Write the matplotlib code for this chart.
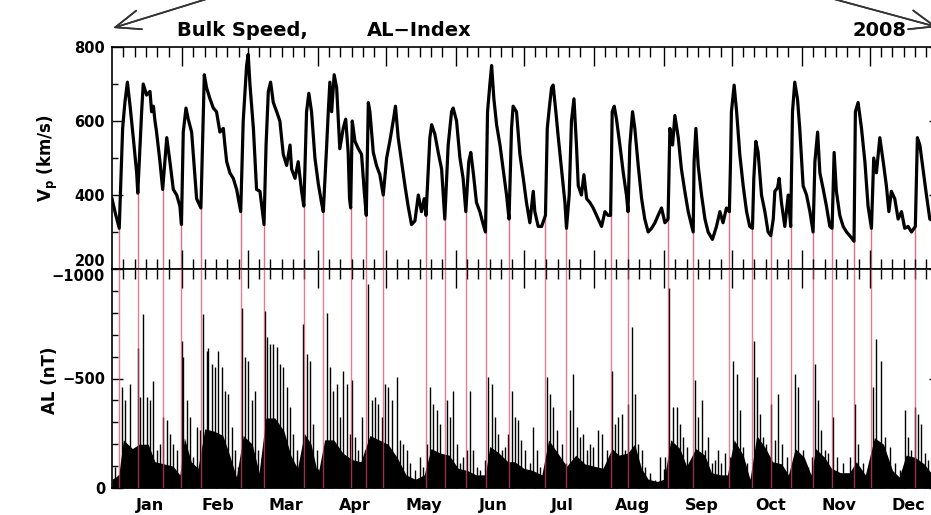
import numpy as np
import matplotlib
matplotlib.use("Agg")
import matplotlib.pyplot as plt
from matplotlib.transforms import blended_transform_factory

plt.rcParams['font.family'] = ['DejaVu Sans']
plt.rcParams['font.weight'] = 'bold'
plt.rcParams['mathtext.fontset'] = 'custom'
plt.rcParams['mathtext.rm'] = 'DejaVu Sans:bold'
plt.rcParams['mathtext.it'] = 'DejaVu Sans:bold'
plt.rcParams['mathtext.bf'] = 'DejaVu Sans:bold'

# 2008 calendar (leap year), x axis in day-of-year
months = ['Jan', 'Feb', 'Mar', 'Apr', 'May', 'Jun', 'Jul', 'Aug', 'Sep', 'Oct', 'Nov', 'Dec']
month_len = [31, 29, 31, 30, 31, 30, 31, 31, 30, 31, 30, 31]

# solar wind bulk speed (km/s)
speed_day = [0, 1.5, 3.2, 4.7, 5.7, 6.8, 8.0, 9.4, 10.9, 11.4, 13.1, 13.8, 15.3, 16.8, 17.5,
             18.3, 19.0, 19.7, 21.2, 21.9, 22.4, 24.2, 25.6, 27.1, 28.6, 30.0, 30.7, 31.5,
             32.7, 33.7, 35.2, 36.7, 37.4, 39.3, 40.8, 41.8, 43.3, 44.8, 46.2, 47.7, 49.2,
             49.9, 50.7, 52.1, 53.6, 55.1, 56.9, 58.0, 59.5, 60.2, 61.0, 62.5, 63.9, 65.4,
             67.2, 68.1, 69.1, 70.1, 71.3, 72.8, 74.2, 75.7, 77.2, 78.7, 79.4, 80.9, 82.3,
             83.8, 84.8, 86.0, 87.0, 88.2, 89.7, 91.2, 92.6, 93.4, 94.9, 95.6, 96.3, 97.1,
             98.2, 99.3, 100.0, 100.7, 102.2, 103.3, 104.4, 105.0, 105.5, 106.2, 107.4,
             108.9, 110.3, 111.5, 112.4, 113.3, 114.0, 115.5, 116.9, 118.4, 119.9, 121.4,
             122.8, 124.3, 125.3, 126.5, 128.0, 129.5, 130.9, 132.4, 133.9, 135.4, 136.8,
             138.0, 138.8, 140.5, 141.3, 142.7, 144.2, 145.7, 147.1, 148.6, 150.1, 150.8,
             152.3, 153.8, 155.2, 156.4, 157.7, 158.6, 159.7, 161.1, 162.6, 164.1, 165.1,
             166.0, 167.0, 167.8, 168.8, 170.0, 171.5, 172.9, 174.4, 175.5, 176.6, 177.3,
             178.8, 180.3, 181.8, 183.2, 184.7, 186.2, 186.9, 188.4, 189.9, 191.6, 192.4,
             193.3, 194.3, 195.0, 196.2, 197.2, 198.7, 200.2, 200.9, 202.1, 203.1, 204.2,
             205.3, 206.1, 207.5, 208.6, 209.8, 211.2, 212.7, 214.2, 216.4, 217.9, 219.3,
             220.4, 221.1, 222.0, 223.0, 224.5, 226.0, 227.4, 228.1, 228.9, 230.1, 231.1,
             232.6, 234.1, 235.5, 237.0, 238.5, 240.0, 241.4, 242.9, 244.4, 245.8, 246.6,
             247.8, 248.8, 250.3, 251.7, 253.2, 254.7, 256.9, 257.3, 258.1, 259.1, 260.6,
             262.1, 263.5, 265.4, 267.2, 268.7, 270.1, 271.6, 272.9, 273.4, 273.8, 275.0,
             276.1, 277.5, 279.0, 280.5, 281.9, 283.1, 283.7, 284.6, 285.6, 287.1, 288.6,
             290.0, 291.2, 292.3, 293.0, 294.2, 294.9, 295.9, 297.4, 298.9, 300.0, 300.8,
             301.8, 303.0, 304.0, 305.5, 307.0, 308.5, 309.9, 310.7, 311.9, 312.9, 314.4,
             315.8, 317.3, 318.3, 319.2, 320.2, 321.7, 323.2, 324.7, 326.1, 328.0, 328.6,
             329.8, 331.3, 332.8, 334.2, 335.7, 336.7, 337.9, 339.4, 340.9, 342.3, 343.4,
             344.5, 346.0, 347.5, 349.0, 350.4, 351.9, 353.4, 355.1, 356.0, 357.1, 358.5,
             360.0, 361.5, 366.0]
speed = [390, 350, 310, 580, 650, 705, 640, 555, 460, 405, 625, 700, 670, 680, 625,
         640, 600, 570, 490, 445, 415, 555, 490, 415, 400, 370, 320, 570,
         635, 605, 570, 445, 390, 365, 725, 690, 660, 635, 625, 570, 580,
         535, 490, 460, 445, 415, 355, 600, 750, 780, 697, 580, 415, 410,
         320, 535, 680, 705, 650, 625, 600, 510, 480, 535, 470, 445, 490,
         410, 370, 625, 675, 625, 500, 430, 380, 355, 535, 625, 705, 625,
         725, 690, 605, 525, 580, 605, 515, 390, 365, 600, 545,
         525, 510, 410, 345, 650, 625, 515, 480, 455, 400, 500,
         545, 600, 640, 555, 490, 425, 370, 320, 330, 400, 355,
         390, 345, 555, 590, 565, 515, 470, 335, 535, 625, 635,
         600, 500, 445, 355, 490, 515, 460, 380, 355, 320, 300,
         625, 697, 750, 660, 590, 535, 470, 400, 335, 580, 640,
         625, 510, 445, 380, 325, 410, 355, 315, 315, 345, 580,
         635, 690, 697, 625, 560, 470, 380, 310, 400, 600, 660,
         535, 425, 400, 455, 390, 380, 365, 345, 315, 355, 345,
         345, 625, 640, 605, 535, 460, 400, 355, 535, 625, 580,
         480, 390, 335, 300, 310, 325, 345, 365, 325, 335, 580,
         535, 615, 555, 470, 410, 355, 300, 490, 580, 480, 400,
         335, 300, 280, 315, 355, 325, 365, 355, 490, 625, 697,
         625, 510, 425, 355, 315, 310, 445, 545, 515, 400, 355,
         300, 290, 335, 410, 420, 445, 380, 315, 400, 315, 625,
         705, 660, 580, 425, 400, 355, 300, 490, 570, 460, 415,
         370, 315, 310, 515, 410, 345, 315, 300, 290, 275, 625,
         650, 580, 490, 370, 310, 500, 460, 555, 490, 425, 355,
         410, 390, 335, 355, 310, 315, 300, 315, 555, 535, 470,
         400, 335, 320]

# AL index: spike peaks (nT, magnitude)
al_day = [1.3, 2.8, 4.3, 5.7, 8.0, 9.4, 11.4, 12.4, 13.8, 15.3, 16.8, 18.3, 19.7, 21.2,
          22.7, 24.2, 25.6, 27.1, 28.6, 30.8, 31.5, 33.0, 34.5, 35.9, 37.4, 38.9, 40.4,
          41.8, 42.6, 44.0, 45.5, 47.0, 48.5, 49.9, 51.4, 52.9, 54.3, 55.8, 57.3, 58.8,
          60.2, 61.7, 63.2, 64.7, 66.1, 67.6, 68.3, 69.8, 71.3, 72.8, 74.2, 75.7, 77.2,
          78.7, 80.1, 81.6, 83.1, 84.5, 86.0, 87.5, 89.0, 90.5, 91.9, 93.4, 94.9, 96.4,
          97.8, 99.3, 100.8, 102.3, 103.7, 105.2, 105.9, 107.4, 108.9, 110.3, 111.8,
          113.3, 114.8, 116.2, 117.7, 119.2, 120.7, 122.1, 123.6, 125.8, 127.3, 128.8,
          130.2, 131.7, 133.9, 136.1, 137.6, 139.1, 140.5, 142.0, 143.5, 145.0, 147.9,
          149.4, 150.9, 152.3, 153.8, 155.3, 156.8, 158.2, 159.7, 161.2, 162.6, 164.9,
          166.3, 167.8, 169.3, 170.7, 172.2, 173.7, 175.2, 176.6, 178.1, 179.6, 181.0,
          182.5, 184.7, 186.2, 187.7, 189.2, 192.1, 193.6, 195.0, 196.5, 198.7, 200.9,
          202.4, 203.9, 205.4, 206.8, 208.3, 209.8, 211.2, 212.7, 214.9, 216.4, 218.6,
          220.8, 222.3, 223.8, 225.3, 226.7, 228.2, 229.7, 231.1, 232.6, 234.1, 235.6,
          237.8, 240.0, 242.2, 244.4, 246.3, 248.1, 249.6, 251.0, 252.5, 254.0, 256.2,
          257.7, 259.1, 260.6, 262.1, 263.6, 265.0, 266.5, 268.0, 269.4, 270.9, 273.1,
          274.6, 276.1, 277.5, 279.0, 280.5, 282.0, 283.7, 284.9, 286.4, 287.9, 289.3,
          291.5, 293.0, 294.5, 296.0, 298.2, 300.4, 301.9, 303.3, 305.5, 307.7, 309.2,
          310.7, 312.2, 313.6, 315.1, 316.6, 318.8, 320.3, 323.2, 326.2, 328.4, 329.8,
          332.1, 334.3, 336.5, 337.9, 339.7, 341.6, 343.8, 346.0, 348.2, 350.5, 351.9,
          353.4, 354.9, 356.3, 357.8, 359.3, 360.8, 363.0, 365.0]
al_peak = [97, 60, 460, 400, 476, 173, 640, 415, 795, 415, 400, 490, 173, 200,
           324, 309, 248, 200, 173, 673, 597, 400, 324, 142, 279, 264, 795,
           627, 640, 567, 552, 627, 552, 445, 430, 279, 173, 97, 824, 597,
           582, 400, 445, 173, 142, 809, 688, 658, 658, 643, 567, 552, 460,
           370, 248, 173, 97, 749, 612, 582, 294, 173, 36, 97, 800, 552,
           445, 476, 324, 536, 476, 248, 491, 233, 173, 324, 173,
           930, 400, 415, 385, 324, 476, 460, 400, 506, 218, 200,
           173, 112, 82, 142, 97, 200, 460, 385, 355, 294, 400,
           324, 445, 200, 112, 142, 173, 445, 173, 97, 82, 127,
           506, 476, 324, 248, 173, 188, 248, 445, 324, 309, 218,
           173, 112, 279, 173, 97, 506, 430, 370, 264, 200, 112,
           355, 521, 279, 233, 248, 173, 200, 188, 264, 248, 173,
           536, 294, 324, 340, 173, 385, 733, 430, 200, 173, 97,
           67, 36, 142, 142, 915, 370, 370, 294, 233, 188, 82,
           491, 324, 400, 173, 233, 112, 127, 173, 112, 158, 142,
           582, 521, 355, 188, 112, 36, 673, 506, 340, 233, 200,
           385, 218, 430, 200, 142, 52, 521, 460, 173, 97, 142,
           567, 400, 264, 173, 158, 324, 142, 112, 142, 385, 200,
           112, 82, 460, 680, 582, 233, 188, 112, 82, 355, 233,
           173, 370, 340, 294, 158, 127, 100, 80]

# AL index: level of the dense substorm activity (nT, magnitude)
body_day = [0, 3, 5, 9, 12, 16, 19, 23, 27, 30, 32, 35, 38, 41, 45, 49, 52, 55, 58, 62,
            65, 68, 72, 76, 79, 82, 85, 88, 91, 94, 98, 102, 106, 110, 114, 118, 122,
            126, 130, 134, 138, 141, 145, 149, 153, 157, 161, 165, 167, 171, 175, 178,
            182, 186, 190, 193, 197, 201, 205, 209, 213, 217, 221, 224, 228, 231, 234,
            237, 241, 244, 247, 251, 254, 258, 262, 265, 269, 272, 275, 279, 282, 285,
            289, 292, 296, 299, 302, 306, 309, 311, 315, 318, 322, 326, 329, 333, 337,
            341, 345, 348, 351, 355, 359, 362, 366]
body = [40, 60, 220, 180, 200, 200, 120, 110, 100, 60, 230, 120, 90, 270, 260, 240, 150,
        50, 240, 200, 70, 320, 320, 260, 150, 90, 250, 200, 60, 220, 220, 160, 130, 120,
        240, 220, 200, 140, 60, 40, 60, 180, 160, 150, 90, 80, 60, 60, 190, 160, 120,
        120, 90, 80, 60, 220, 160, 100, 150, 110, 100, 90, 180, 150, 160, 200, 90, 40,
        30, 40, 220, 180, 100, 180, 150, 70, 60, 60, 220, 150, 40, 240, 180, 120, 110,
        60, 180, 140, 60, 180, 140, 90, 70, 70, 120, 60, 230, 200, 80, 50, 150, 140,
        110, 70, 50]

# onsets of high-speed streams
onset_day = [3.2, 11.4, 22.4, 30.7, 39.3, 56.9, 67.2, 84.8, 93.4, 105.5, 112.4, 119.9,
             138.8, 147.1, 156.4, 165.1, 175.5, 191.6, 200.9, 220.4, 228.1, 245.8, 256.9,
             272.9, 283.1, 291.2, 300.0, 309.9, 318.3, 328.0, 335.7, 355.1]

W_PX, H_PX = 931, 515
fig = plt.figure(figsize=(W_PX / 100, H_PX / 100), dpi=100)
left, right = 112, 940
ax1 = fig.add_axes([left / W_PX, 1 - 269 / H_PX, (right - left) / W_PX, (269 - 47) / H_PX])
ax2 = fig.add_axes([left / W_PX, 1 - 488 / H_PX, (right - left) / W_PX, (488 - 269) / H_PX])

red = '#d9486a'
v_on = np.interp(onset_day, speed_day, speed)
ax1.vlines(onset_day, 200, v_on, color=red, lw=1.0, alpha=0.8, zorder=1)
ax1.plot(speed_day, speed, color='black', lw=2.3, zorder=2)
ax1.set_ylim(200, 800)
ax1.set_yticks([200, 400, 600, 800])
ax1.set_yticks(np.arange(300, 800, 100), minor=True)

al_peak = np.array(al_peak)
body = np.array(body)
ax2.fill_between(body_day, 0, -body, color='black', lw=0, zorder=2)
ax2.vlines(al_day, 0, -al_peak, color='black', lw=1.0, zorder=2)
ax2.vlines(onset_day, 0, -1000, color=red, lw=1.0, alpha=0.7, zorder=3)
ax2.set_ylim(0, -1000)
ax2.set_yticks([0, -500, -1000])
ax2.set_yticks(np.arange(-900, 0, 100), minor=True)

month_start = np.concatenate([[0], np.cumsum(month_len)])
minor_days = [s + k for s, n in zip(month_start[:-1], month_len) for k in (5, 10, 15, 20, 25)
              if s + k < s + n - 2]

for ax in (ax1, ax2):
    ax.set_xlim(0, 366)
    ax.set_xticks(month_start[1:-1])
    ax.set_xticks(minor_days, minor=True)
    ax.set_xticklabels([])
    ax.tick_params(axis='both', which='both', direction='in', top=True, right=True,
                   width=1.0, labelsize=10.5, pad=5)
    ax.tick_params(axis='x', which='major', length=14)
    ax.tick_params(axis='x', which='minor', length=7)
    ax.tick_params(axis='y', which='major', length=8)
    ax.tick_params(axis='y', which='minor', length=4)
    for sp in ax.spines.values():
        sp.set_linewidth(1.2)

# the two labels at the shared edge sit just above / below it
ax1.yaxis.get_major_ticks()[0].label1.set_va('bottom')
ax2.yaxis.get_major_ticks()[2].label1.set_va('top')

trans = blended_transform_factory(ax2.transData, ax2.transAxes)
for name, s, n in zip(months, month_start[:-1], month_len):
    ax2.text(s + n / 2 + 1.5, -0.08, name, transform=trans, ha='center', va='center',
             fontsize=11.5)

fig.text(48 / W_PX, 1 - 158 / H_PX, r'V$_\mathregular{p}$ (km/s)', rotation=90,
         ha='center', va='center', fontsize=12)
fig.text(50 / W_PX, 1 - 380 / H_PX, 'AL (nT)', rotation=90, ha='center', va='center',
         fontsize=12)

fig.text(177 / W_PX, 1 - 31 / H_PX, 'Bulk Speed,', fontsize=14, va='center', ha='left')
fig.text(367 / W_PX, 1 - 31 / H_PX, 'AL\u2212Index', fontsize=14, va='center', ha='left')
fig.text(907 / W_PX, 1 - 31 / H_PX, '2008', fontsize=14, va='center', ha='right')

arrow = dict(arrowstyle='->, head_length=0.9, head_width=0.35', color='#333333', lw=1.2,
             mutation_scale=20, shrinkA=0, shrinkB=0)
fig.add_artist(plt.annotate('', xy=(113, H_PX - 28), xytext=(210, H_PX + 2),
                            xycoords='figure pixels', textcoords='figure pixels',
                            arrowprops=arrow, annotation_clip=False))
fig.add_artist(plt.annotate('', xy=(937, H_PX - 27), xytext=(830, H_PX + 2),
                            xycoords='figure pixels', textcoords='figure pixels',
                            arrowprops=arrow, annotation_clip=False))

fig.savefig('out.png', dpi=100)
